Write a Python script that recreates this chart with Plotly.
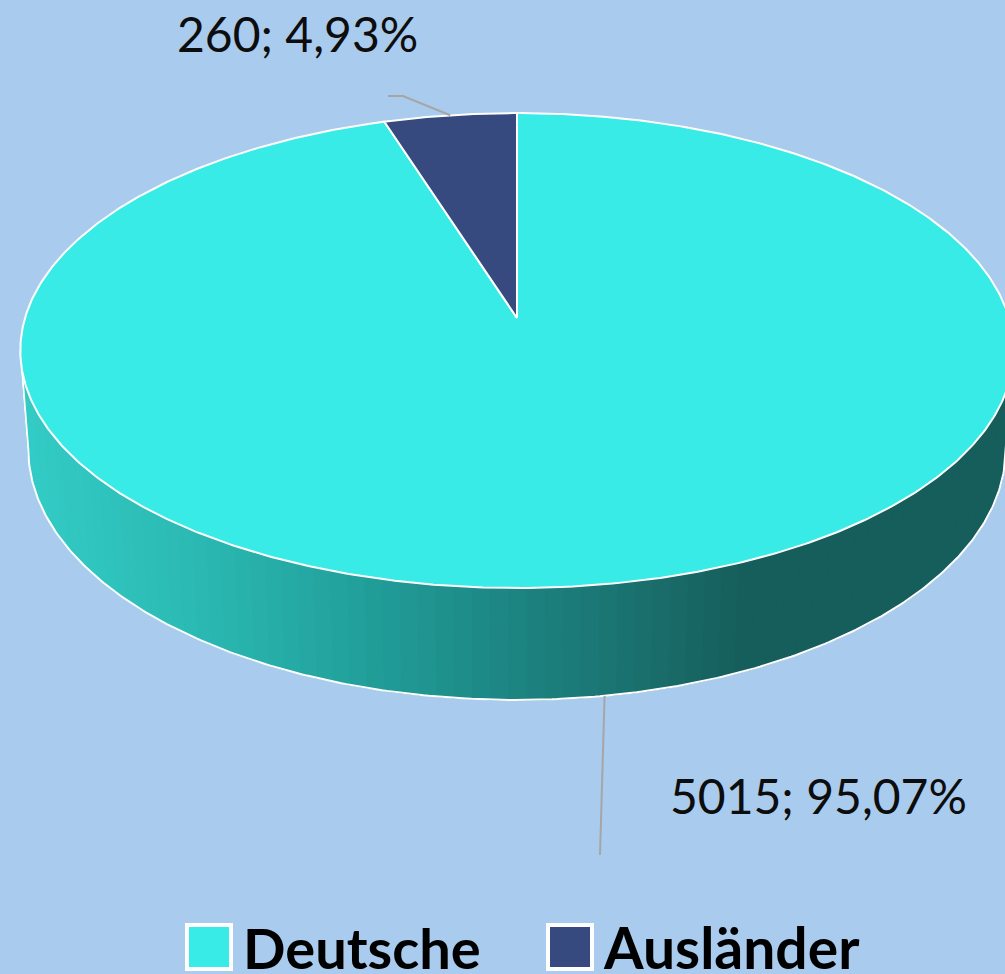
import numpy as np
import plotly.graph_objects as go

# ---- data ----
categories = ["Deutsche", "Ausländer"]
values = [5015, 260]
colors = ["#38EBE6", "#364A7F"]
labels = ["5015; 95,07%", "260; 4,93%"]

# ---- geometry / style (layout constants) ----
W, H = 1005, 974
CX, CY = 517, 318      # projected pie centre
A, B = 492, 233        # horizontal / vertical radii
K = 0.137              # perspective factor
THICK = 96.6           # side thickness
BG = "#A9CBEE"

def proj(theta_deg, depth=0.0):
    t = np.radians(theta_deg)
    u, v = np.sin(t), np.cos(t)
    w = 1 + K * v
    shrink = 1 - 0.016 * depth
    x = CX + A * u / w * shrink
    y = CY - B * v / w + THICK * depth / w
    return x, y

fig = go.Figure()

total = sum(values)
fracs = [v / total for v in values]
starts = np.concatenate([[0], np.cumsum(fracs)[:-1]]) * 360
ends = np.cumsum(fracs) * 360

# ---- side (front half, gradient) ----
def side_color(x):
    stops = [(30, (0x33, 0xCB, 0xC5)), (200, (0x2B, 0xB8, 0xB2)), (350, (0x22, 0xA1, 0x9C)),
             (500, (0x1C, 0x87, 0x84)), (650, (0x1A, 0x6E, 0x6C)), (740, (0x16, 0x5E, 0x5C))]
    if x <= stops[0][0]:
        c = stops[0][1]
    elif x >= stops[-1][0]:
        c = stops[-1][1]
    else:
        for (x0, c0), (x1, c1) in zip(stops[:-1], stops[1:]):
            if x0 <= x <= x1:
                f = (x - x0) / (x1 - x0)
                c = tuple(c0[i] + (c1[i] - c0[i]) * f for i in range(3))
                break
    return "rgb(%d,%d,%d)" % tuple(int(round(ci)) for ci in c)

th_l = 360 - np.degrees(np.arccos(-K))  # left silhouette angle (~262)
th_r = np.degrees(np.arccos(-K))        # right silhouette angle (~98)
side_angles = np.linspace(th_r, th_l, 90)
for a0, a1 in zip(side_angles[:-1], side_angles[1:]):
    ts = np.linspace(a0, a1, 4)
    xt, yt = proj(ts, 0)
    xb, yb = proj(ts[::-1], 1)
    xs = np.concatenate([xt, xb, xt[:1]])
    ys = np.concatenate([yt, yb, yt[:1]])
    col = side_color(float(np.mean(xt)))
    fig.add_trace(go.Scatter(x=xs, y=ys, mode="lines", fill="toself", fillcolor=col,
                             line=dict(color=col, width=1.2), hoverinfo="skip", showlegend=False))

# side outline (white)
ts = np.linspace(th_r, th_l, 300)
xb, yb = proj(ts, 1)
xt0, yt0 = proj(th_r, 0)
xt1, yt1 = proj(th_l, 0)
fig.add_trace(go.Scatter(x=np.concatenate([[xt0], xb, [xt1]]), y=np.concatenate([[yt0], yb, [yt1]]),
                         mode="lines", line=dict(color="white", width=2), hoverinfo="skip", showlegend=False))

# ---- top face slices ----
for i, (s, e) in enumerate(zip(starts, ends)):
    ts = np.linspace(s, e, max(10, int((e - s) * 2)))
    xs, ys = proj(ts, 0)
    xs = np.concatenate([[CX], xs, [CX]])
    ys = np.concatenate([[CY], ys, [CY]])
    fig.add_trace(go.Scatter(x=xs, y=ys, mode="lines", fill="toself", fillcolor=colors[i],
                             line=dict(color="white", width=2), name=categories[i],
                             hoverinfo="skip", showlegend=False))

# ---- leader lines ----
mid_a = (starts[1] + ends[1]) / 2
xa, ya = proj(mid_a, 0)
fig.add_trace(go.Scatter(x=[388, 403, xa], y=[96, 96, ya], mode="lines",
                         line=dict(color="#A6A6A6", width=2), hoverinfo="skip", showlegend=False))
xd, yd = proj(171, 1)
fig.add_trace(go.Scatter(x=[xd, 600], y=[yd, 855], mode="lines",
                         line=dict(color="#A6A6A6", width=2), hoverinfo="skip", showlegend=False))

FONT = "Lato"
fig.add_annotation(x=175, y=33, xref="x", yref="y", text=labels[1], showarrow=False,
                   xanchor="left", yanchor="middle", font=dict(family=FONT, size=48, color="#0D0D0D"))
fig.add_annotation(x=668, y=795, xref="x", yref="y", text=labels[0], showarrow=False,
                   xanchor="left", yanchor="middle", font=dict(family=FONT, size=48, color="#0D0D0D"))

# ---- legend (manual) ----
leg_x = [209, 570]
leg_tx = [241, 601]
leg_sizes = [56, 57]
fig.add_trace(go.Scatter(x=leg_x, y=[947, 947], mode="markers",
                         marker=dict(symbol="square", size=44, color=colors,
                                     line=dict(color="white", width=4)),
                         hoverinfo="skip", showlegend=False))
for i in range(2):
    fig.add_annotation(x=leg_tx[i], y=947, xref="x", yref="y", text="<b>%s</b>" % categories[i],
                       showarrow=False, xanchor="left", yanchor="middle",
                       font=dict(family=FONT, size=leg_sizes[i], color="#000000"))

fig.update_layout(
    width=W, height=H, margin=dict(l=0, r=0, t=0, b=0),
    paper_bgcolor=BG, plot_bgcolor=BG,
    xaxis=dict(range=[0, W], visible=False, fixedrange=True),
    yaxis=dict(range=[H, 0], visible=False, fixedrange=True),
    showlegend=False,
)
fig.write_html("out.html", config={"displayModeBar": False},
               post_script="document.body.style.margin='0';document.body.style.overflow='hidden';")
